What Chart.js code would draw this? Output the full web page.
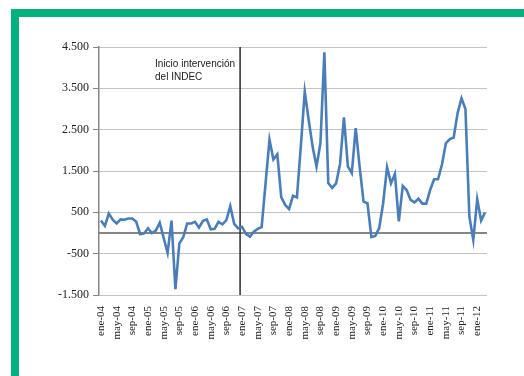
<!DOCTYPE html>
<html lang="es">
<head>
<meta charset="utf-8">
<title>Inicio intervención del INDEC</title>
<script src="https://cdn.jsdelivr.net/npm/chart.js@4.4.1/dist/chart.umd.min.js"></script>
<style>
  html, body { margin: 0; padding: 0; background: #fff; }
  #marco {
    position: absolute; left: 11px; top: 9px; width: 513px; height: 367px;
    border-top: 8px solid #05b07f; border-left: 8px solid #05b07f;
    box-sizing: border-box;
  }
  #grafica { position: absolute; left: 0; top: 0; }
</style>
</head>
<body>
<div id="marco"></div>
<canvas id="grafica" width="524" height="376"></canvas>
<script>
// Serie mensual, ene-04 a mar-12
const meses = ["ene", "feb", "mar", "abr", "may", "jun", "jul", "ago", "sep", "oct", "nov", "dic"];
const anios = ["04", "05", "06", "07", "08", "09", "10", "11", "12"];
const valores = [
  300, 170, 470, 320, 230, 330, 320, 350, 350, 270, -30, -10,
  115, 0, 60, 250, -120, -480, 300, -1360, -250, -100, 230, 230,
  270, 130, 290, 330, 90, 100, 270, 210, 310, 650, 220, 110,
  150, -20, -90, 30, 100, 140, 1200, 2260, 1780, 1900, 870, 680,
  580, 900, 860, 2100, 3420, 2740, 2090, 1610, 2170, 4370, 1210, 1090,
  1200, 1670, 2800, 1610, 1450, 2540, 1600, 760, 720, -100, -70, 120,
  720, 1590, 1200, 1430, 280, 1140, 1040, 800, 740, 830, 710, 710,
  1040, 1300, 1300, 1650, 2170, 2270, 2310, 2900, 3260, 3000, 400, -170,
  820, 300, 500
];
const ticksY = [-1500, -500, 500, 1500, 2500, 3500, 4500];
const inicioIntervencion = "ene-07";
const textoIntervencion = ["Inicio intervención", "del INDEC"];

let categorias = [];
anios.forEach((a) => meses.forEach((m) => categorias.push(m + "-" + a)));
categorias = categorias.slice(0, valores.length);

function formatoMiles(v) {
  const s = Math.abs(v).toString().replace(/\B(?=(\d{3})+(?!\d))/g, ".");
  return (v < 0 ? "-" : "") + s;
}

// línea del cero, línea vertical y el texto de la intervención
const lineasExtra = {
  id: "lineasExtra",
  beforeDatasetsDraw(chart) {
    const { ctx, chartArea, scales } = chart;
    const y0 = scales.y.getPixelForValue(0);
    const i = categorias.indexOf(inicioIntervencion);
    const xv = (scales.x.getPixelForValue(i - 1) + scales.x.getPixelForValue(i)) / 2;
    ctx.save();
    ctx.strokeStyle = "#858585";
    ctx.lineWidth = 2;
    ctx.beginPath();
    ctx.moveTo(chartArea.left, y0);
    ctx.lineTo(chartArea.right, y0);
    ctx.stroke();
    ctx.strokeStyle = "#2b2b2b";
    ctx.lineWidth = 1.5;
    ctx.beginPath();
    ctx.moveTo(xv, chartArea.top);
    ctx.lineTo(xv, chartArea.bottom);
    ctx.stroke();
    ctx.fillStyle = "#1a1a1a";
    ctx.font = "10px 'Liberation Sans'";
    ctx.textAlign = "right";
    ctx.textBaseline = "alphabetic";
    ctx.fillText(textoIntervencion[0], xv - 5, chartArea.top + 20);
    ctx.textAlign = "left";
    const x0 = xv - 5 - ctx.measureText(textoIntervencion[0]).width;
    ctx.fillText(textoIntervencion[1], x0, chartArea.top + 33);
    ctx.restore();
  },
};

const ctx = document.getElementById("grafica").getContext("2d");
const grafica = new Chart(ctx, {
  type: "line",
  data: {
    labels: categorias,
    datasets: [
      {
        data: valores,
        borderColor: "#4a7ebb",
        borderWidth: 2.6,
        pointRadius: 0,
        tension: 0,
        fill: false,
      },
    ],
  },
  options: {
    responsive: false,
    animation: false,
    layout: { padding: { left: 0, right: 37, top: 47, bottom: 0 } },
    plugins: { legend: { display: false }, tooltip: { enabled: false } },
    scales: {
      x: {
        offset: true,
        grid: { display: false, drawTicks: false },
        border: { display: false },
        ticks: {
          autoSkip: false,
          minRotation: 90,
          maxRotation: 90,
          padding: 11,
          color: "#222",
          font: { family: "'Liberation Serif'", size: 11 },
          callback: (v, i) => (i % 4 === 0 ? categorias[i] : ""),
        },
        afterFit(scale) {
          scale.height = 81;
        },
      },
      y: {
        min: -1500,
        max: 4500,
        afterBuildTicks(scale) {
          scale.ticks = ticksY.map((v) => ({ value: v }));
        },
        grid: {
          color: "#c4c4c4",
          borderDash: [2, 2],
          tickColor: "#858585",
          tickBorderDash: [],
          tickLength: 6,
        },
        border: { display: true, color: "#858585", width: 1.5 },
        ticks: {
          padding: 4,
          color: "#222",
          font: { family: "'Liberation Serif'", size: 12 },
          callback: (v) => formatoMiles(v),
        },
        afterFit(scale) {
          scale.width = 99;
        },
      },
    },
  },
  plugins: [lineasExtra],
});
</script>
</body>
</html>
